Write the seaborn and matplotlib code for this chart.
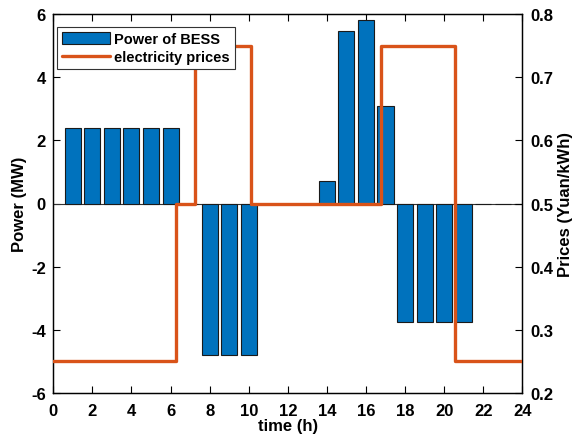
import numpy as np
import pandas as pd
import matplotlib
matplotlib.use("Agg")
import matplotlib.pyplot as plt
from matplotlib.patches import Patch
from matplotlib.lines import Line2D
import seaborn as sns

# hourly BESS power (MW), hours 1..24
hours = list(range(1, 25))
power = [2.4, 2.4, 2.4, 2.4, 2.4, 2.4, 0, -4.8, -4.8, -4.8, 0, 0,
         0, 0.7, 5.45, 5.8, 3.08, -3.75, -3.75, -3.75, -3.75, 0, 0, 0]

# electricity price steps (Yuan/kWh), steps-post
price_t = [0, 6.3, 7.27, 10.1, 16.75, 20.55, 24]
price_v = [0.25, 0.5, 0.75, 0.5, 0.75, 0.25, 0.25]

sns.set_theme(style="ticks")
plt.rcParams["font.family"] = ["Liberation Sans", "DejaVu Sans"]
plt.rcParams["font.weight"] = "bold"
plt.rcParams["axes.labelweight"] = "bold"
plt.rcParams["axes.unicode_minus"] = False
for k in ["text.color", "axes.labelcolor", "xtick.color", "ytick.color",
          "axes.edgecolor"]:
    plt.rcParams[k] = "black"

blue = "#0072BD"
orange = "#D95319"

df = pd.DataFrame({"hour": hours, "power": power})
pr = pd.DataFrame({"t": price_t, "price": price_v})

fig = plt.figure(figsize=(5.76, 4.39), dpi=100)
ax = fig.add_axes([53.3 / 576, 45 / 439, 469 / 576, 379 / 439])

ax.axhline(0, color="#333333", lw=0.8, zorder=1)
sns.barplot(data=df, x="hour", y="power", native_scale=True, width=0.82,
            color=blue, edgecolor="#1a1a1a", linewidth=0.8, saturation=1,
            ax=ax, zorder=2)

ax2 = ax.twinx()
sns.lineplot(data=pr, x="t", y="price", drawstyle="steps-post",
             color=orange, lw=2.4, ax=ax2, zorder=3)

ax.set_xlim(0, 24)
ax.set_ylim(-6, 6)
ax.set_xticks(np.arange(0, 25, 2))
ax.set_yticks(np.arange(-6, 7, 2))
ax2.set_ylim(0.2, 0.8)
ax2.set_yticks(np.arange(0.2, 0.81, 0.1))
ax2.set_yticklabels([f"{v:.1f}" for v in np.arange(0.2, 0.81, 0.1)])

ax.set_xlabel("time (h)", fontsize=12, fontweight="bold", labelpad=0)
ax.set_ylabel("Power (MW)", fontsize=12, fontweight="bold", labelpad=3)
ax2.set_ylabel("Prices (Yuan/kWh)", fontsize=12, fontweight="bold", labelpad=4)

for a in (ax, ax2):
    a.tick_params(direction="in", length=5, width=0.8, labelsize=12, pad=5.5,
                  colors="black")
    for s in a.spines.values():
        s.set_linewidth(0.9)
        s.set_color("black")
ax.tick_params(top=True, right=False)
ax.tick_params(axis="x", pad=7)
for lab in ax.get_xticklabels() + ax.get_yticklabels() + ax2.get_yticklabels():
    lab.set_fontweight("bold")

# line above the bars
ax2.set_zorder(ax.get_zorder() + 1)
ax2.patch.set_visible(False)

handles = [Patch(facecolor=blue, edgecolor="#1a1a1a", linewidth=0.8),
           Line2D([0], [0], color=orange, lw=2.4)]
leg = ax2.legend(handles, ["Power of BESS", "electricity prices"],
                 loc="upper left", bbox_to_anchor=(0.008, 0.967),
                 prop={"weight": "bold", "size": 10.5}, frameon=True,
                 fancybox=False, edgecolor="#333333", framealpha=1,
                 handlelength=3.3, handleheight=0.9, handletextpad=0.25,
                 borderpad=0.35, labelspacing=0.3, borderaxespad=0.0)
leg.get_frame().set_linewidth(0.8)
for t in leg.get_texts():
    t.set_color("black")

fig.savefig("out.png", dpi=100)
